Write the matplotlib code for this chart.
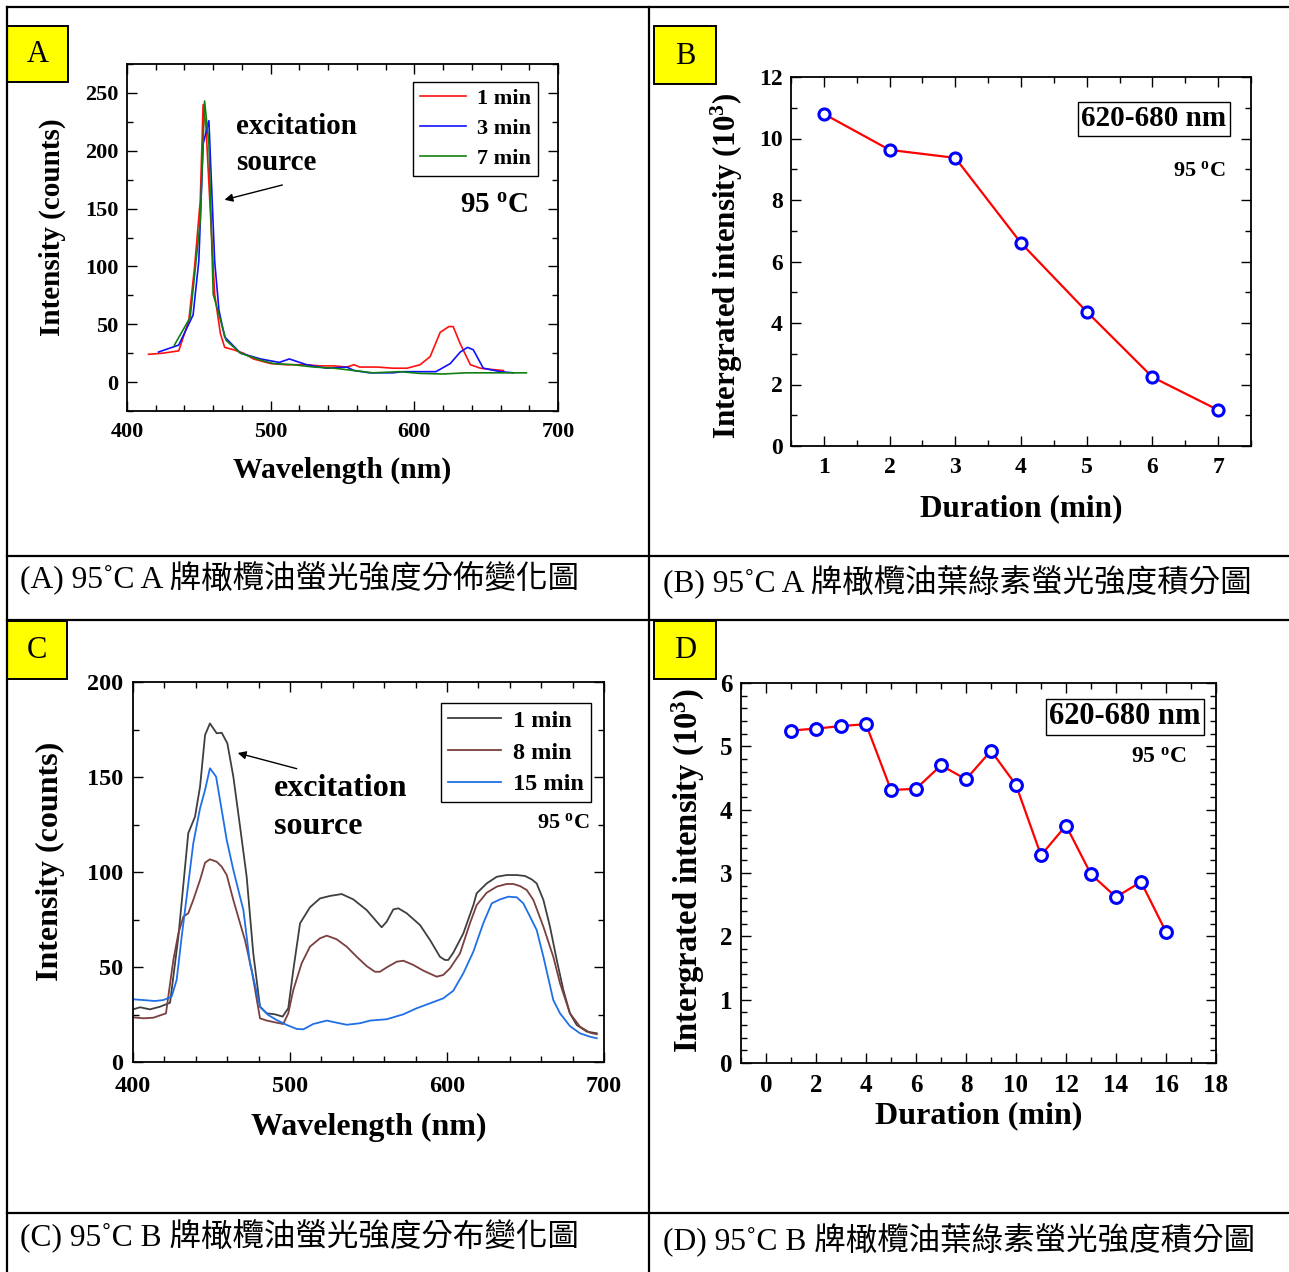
import matplotlib
matplotlib.use("Agg")
import matplotlib.pyplot as plt
from matplotlib.lines import Line2D
from matplotlib.patches import Rectangle
from matplotlib.ticker import MultipleLocator

W, H = 1289, 1272

# ---------------- data ----------------
# Panel A : 95 C, brand A spectra
a_red_wl = [415, 425, 436, 443, 447, 451, 453, 455, 458, 461, 465, 468, 474, 481, 488, 500, 511, 525, 534,
            544, 553, 558, 562, 574, 585, 595, 604, 611, 618, 624, 627, 632, 639, 646, 653, 662]
a_red_v = [24, 25, 27, 53, 99, 157, 240, 220, 148, 76, 42, 30, 28, 25, 20, 16, 15, 15, 14,
           14, 13, 15, 13, 13, 12, 12, 15, 22, 43, 48, 48, 33, 15, 12, 11, 10]
a_blue_wl = [422, 436, 446, 450, 453, 457, 461, 464, 468, 479, 493, 506, 513, 525, 539, 553, 558, 569,
             585, 592, 615, 625, 632, 637, 641, 648, 660, 669]
a_blue_v = [26, 32, 58, 105, 206, 226, 105, 62, 39, 25, 20, 17, 20, 15, 12, 13, 10, 8,
            8, 9, 9, 16, 26, 30, 28, 12, 9, 8]
a_green_wl = [433, 444, 451, 454, 457, 460, 469, 479, 493, 502, 516, 530, 544, 558, 571, 590, 604, 620,
              636, 650, 678]
a_green_v = [32, 56, 140, 243, 206, 76, 36, 25, 19, 16, 15, 13, 12, 10, 8, 9, 7.5, 7,
             8, 8, 8]

# Panel B : integrated intensity, brand A
b_time = [1, 2, 3, 4, 5, 6, 7]
b_int = [10.8, 9.63, 9.37, 6.6, 4.37, 2.24, 1.17]

# Panel C : 95 C, brand B spectra
c_k_wl = [400, 404.5, 410.8, 417.2, 423.6, 428.9, 435.2, 439.5, 442.7, 445.9, 449, 453.3, 456.5, 460.1,
          463.9, 468.2, 472.4, 476.6, 480.9, 485.2, 490.4, 495.3, 498.9, 502.1, 506.4, 512.7, 519.1,
          525.5, 532.9, 540.3, 548.8, 555.2, 558.4, 561.6, 565.8, 569, 574.3, 582.8, 589.2, 595.5,
          598.7, 600.8, 604, 610.4, 616.8, 618.9, 625.3, 631.7, 638, 644.4, 649.7, 654, 657.1, 661.4,
          665.6, 669.9, 674.1, 678.3, 682.6, 689, 695.4]
c_k_v = [27.7, 28.8, 27.7, 29.1, 31.2, 65.9, 120.4, 129.1, 144.9, 172.1, 178.2, 173, 173.3, 167.7,
         150.2, 123.8, 97.5, 57.2, 29.1, 25.6, 25.1, 23.9, 28.3, 48.4, 73, 81.4, 86.1,
         87.4, 88.4, 85.6, 80, 73.9, 70.9, 73.9, 80.3, 80.9, 78.3, 72.1, 64.2, 55.4,
         53.7, 53.7, 57.5, 67.7, 82.6, 88.8, 94, 97.5, 98.4, 98.4, 97.9, 96.1, 94, 85.3,
         71.2, 53.7, 37.9, 25.6, 19.5, 16, 15.1]
c_r_wl = [400, 406.6, 412.9, 421, 425.7, 428.9, 432.1, 435.2, 438.4, 442.7, 445.9, 449, 453.3, 456.5,
          459.7, 463.9, 468.2, 471.3, 475.6, 480.9, 485.2, 491.5, 495.7, 498.9, 502.1, 507.4, 512.7,
          519.1, 523.4, 529.7, 536.1, 542.5, 548.8, 554.1, 557.3, 561.6, 568, 572.2, 578.5, 584.9,
          593.4, 597.6, 601.9, 608.3, 614.6, 618.9, 625.3, 631.7, 638, 642.2, 646.5, 650.8, 655,
          661.4, 667.7, 672, 678.3, 684.7, 691.1, 695.4]
c_r_v = [23.5, 23, 23.3, 25.6, 53.7, 67.7, 76.5, 78.3, 85.3, 95.8, 104.9, 106.7, 105.4, 102.8,
         98.4, 85.3, 73, 64.2, 48.4, 23, 21.8, 20.7, 20, 25.6, 37.9, 51.9, 60.7,
         65.1, 66.5, 64.6, 60.7, 55.4, 50.5, 47.5, 47.5, 49.8, 52.8, 53.3, 51.1, 48.1,
         44.9, 45.8, 49.3, 57.2, 73, 82.6, 89.1, 92.3, 93.7, 93.7, 92.6, 90.5, 85.3,
         71.2, 55.4, 41.4, 25.6, 18.6, 15.4, 14.6]
c_b_wl = [400, 406.6, 414, 419.3, 424.6, 427.8, 431, 434.2, 438.4, 442.7, 445.9, 449, 452.9, 456.5,
          459.7, 463.9, 467.1, 470.3, 474.5, 480.9, 486.2, 491.5, 497.9, 504.3, 508.5, 514.8, 523.4,
          529.7, 536.1, 544.6, 551, 561.6, 572.2, 580.7, 589.2, 597.6, 604, 610.4, 616.8, 623.1,
          628.5, 633.8, 639.1, 644.4, 648.6, 652.9, 657.1, 661.4, 667.7, 672, 678.3, 684.7, 691.1,
          695.4]
c_b_v = [33, 32.6, 32.1, 32.6, 34.4, 43.2, 65.9, 87, 115.1, 133.5, 143.2, 154.6, 150.2, 132.6,
         116.8, 101.1, 90.5, 80, 51.9, 29.1, 24.7, 22.1, 19.5, 17.4, 17.2, 20, 21.8,
         20.7, 19.6, 20.4, 21.8, 22.5, 25.1, 28.3, 30.9, 33.5, 37.5, 46.7, 58.1, 73,
         83.5, 85.6, 87, 86.7, 83.5, 76.5, 69.5, 55.4, 32.6, 25.6, 18.9, 15.1, 13.3,
         12.5]

# Panel D : integrated intensity, brand B
d_time = list(range(1, 17))
d_int = [5.25, 5.28, 5.32, 5.35, 4.31, 4.33, 4.70, 4.48, 4.93, 4.39, 3.28, 3.75, 2.98, 2.62, 2.86, 2.07]

captions = ["(A) 95˚C A 牌橄欖油螢光強度分佈變化圖",
            "(B) 95˚C A 牌橄欖油葉綠素螢光強度積分圖",
            "(C) 95˚C B 牌橄欖油螢光強度分布變化圖",
            "(D) 95˚C B 牌橄欖油葉綠素螢光強度積分圖"]
panel_letters = ["A", "B", "C", "D"]

# ---------------- style ----------------
SERIF = "Liberation Serif"
plt.rcParams["font.family"] = [SERIF, "DejaVu Serif"]
plt.rcParams["font.weight"] = "bold"
plt.rcParams["mathtext.fontset"] = "custom"
plt.rcParams["mathtext.rm"] = SERIF + ":bold"
plt.rcParams["mathtext.it"] = SERIF + ":bold"
plt.rcParams["mathtext.bf"] = SERIF + ":bold"

fig = plt.figure(figsize=(W / 100, H / 100), dpi=100)


def fx(x):
    return x / W


def fy(y):
    return 1 - y / H


def add_axes(l, r, t, b):
    return fig.add_axes([fx(l), fy(b), (r - l) / W, (b - t) / H])


def style_axes(ax, tick_fs, xmaj, xmin, ymaj, ymin, xpad=8, ypad=6):
    for s in ax.spines.values():
        s.set_linewidth(1.3)
    ax.xaxis.set_major_locator(MultipleLocator(xmaj))
    ax.xaxis.set_minor_locator(MultipleLocator(xmin))
    ax.yaxis.set_major_locator(MultipleLocator(ymaj))
    ax.yaxis.set_minor_locator(MultipleLocator(ymin))
    ax.tick_params(which="both", direction="in", top=True, right=True, width=1.0)
    ax.tick_params(which="major", length=7, labelsize=tick_fs)
    ax.tick_params(which="minor", length=4)
    ax.tick_params(axis="x", which="major", pad=xpad)
    ax.tick_params(axis="y", which="major", pad=ypad)
    for lab in ax.get_xticklabels() + ax.get_yticklabels():
        lab.set_fontweight("bold")


def place_labels(ax, l, r, t, b, xl_y, yl_x, yl_y, xlabel, ylabel, xfs, yfs):
    ax.set_xlabel(xlabel, fontsize=xfs, fontweight="bold")
    ax.set_ylabel(ylabel, fontsize=yfs, fontweight="bold")
    ax.xaxis.label.set_va("center")
    ax.yaxis.label.set_va("center")
    ax.xaxis.set_label_coords(0.5, (b - xl_y) / (b - t))
    ax.yaxis.set_label_coords((yl_x - l) / (r - l), (b - yl_y) / (b - t))


# ---------------- table frame ----------------
lw_frame = 1.6
for x in (7, 649):
    fig.add_artist(Line2D([fx(x), fx(x)], [fy(7), fy(H)], color="black", lw=lw_frame))
for y in (7, 556, 620, 1213):
    fig.add_artist(Line2D([fx(7), fx(W)], [fy(y), fy(y)], color="black", lw=lw_frame))

# yellow letter boxes
boxes = [(7, 26, 68, 82), (654, 26, 716, 84), (7, 621, 67, 679), (654, 621, 716, 679)]
for (l, t, r, b), letter in zip(boxes, panel_letters):
    fig.add_artist(Rectangle((fx(l), fy(b)), (r - l) / W, (b - t) / H, transform=fig.transFigure,
                             facecolor="#ffff00", edgecolor="black", lw=1.4))
    fig.text(fx((l + r) / 2), fy((t + b) / 2 + 1), letter, ha="center", va="center",
             fontsize=22, fontweight="normal", family=SERIF)

# captions
cap_pos = [(20, 578), (663, 582), (20, 1236), (663, 1240)]
for (x, y), cap in zip(cap_pos, captions):
    fig.text(fx(x), fy(y), cap, ha="left", va="center", fontsize=22.7, fontweight="normal",
             family=[SERIF, "Noto Sans CJK TC"])

# ---------------- Panel A ----------------
l, r, t, b = 127, 558, 64, 411
axA = add_axes(l, r, t, b)
lA1, = axA.plot(a_red_wl, a_red_v, color="#ff1010", lw=1.2, label="1 min")
lA2, = axA.plot(a_blue_wl, a_blue_v, color="#1010ff", lw=1.2, label="3 min")
lA3, = axA.plot(a_green_wl, a_green_v, color="#108010", lw=1.2, label="7 min")
axA.set_xlim(400, 700)
axA.set_ylim(-25, 275)
style_axes(axA, 16, 100, 20, 50, 25)
place_labels(axA, l, r, t, b, 470, 52, 227, "Wavelength (nm)", "Intensity (counts)", 21.3, 21)
legA = axA.legend(handles=[lA1, lA2, lA3], loc="upper right",
                  bbox_to_anchor=(fx(538), fy(82)), bbox_transform=fig.transFigure,
                  prop={"family": SERIF, "weight": "bold", "size": 16},
                  frameon=True, fancybox=False, edgecolor="black", framealpha=1,
                  borderaxespad=0, borderpad=0.3, handlelength=2.1, handletextpad=0.5,
                  labelspacing=0.42)
legA.get_frame().set_linewidth(1.0)
axA.text(476, 221, "excitation", fontsize=21, fontweight="bold", va="center", ha="left")
axA.text(476, 190, "source", fontsize=21, fontweight="bold", va="center", ha="left")
axA.annotate("", xy=(466, 157), xytext=(510, 171),
             arrowprops=dict(arrowstyle="-|>", color="black", lw=1.0, mutation_scale=12))
axA.text(0.93, 0.594, "95 $^{\\rm o}$C", transform=axA.transAxes, fontsize=21,
         fontweight="bold", ha="right", va="center")

# ---------------- Panel B ----------------
l, r, t, b = 791, 1251, 77, 446
axB = add_axes(l, r, t, b)
axB.plot(b_time, b_int, color="red", lw=1.6, marker="o", markersize=8,
         markerfacecolor="white", markeredgecolor="blue", markeredgewidth=2.2)
axB.set_xlim(0.5, 7.5)
axB.set_ylim(0, 12)
style_axes(axB, 17, 1, 0.5, 2, 1)
place_labels(axB, l, r, t, b, 509, 727, 266, "Duration (min)", "Intergrated intensity (10$^{3}$)", 22.5, 22.3)
axB.text(fx(1154), fy(119), "620-680 nm", transform=fig.transFigure, fontsize=21,
         fontweight="bold", ha="center", va="center",
         bbox=dict(boxstyle="square,pad=0.12", facecolor="white", edgecolor="black", lw=1.0))
axB.text(fx(1226), fy(171), "95 $^{\\rm o}$C", transform=fig.transFigure, fontsize=16,
         fontweight="bold", ha="right", va="center")

# ---------------- Panel C ----------------
l, r, t, b = 133, 604, 682, 1062
axC = add_axes(l, r, t, b)
lC1, = axC.plot(c_k_wl, c_k_v, color="#3f3f3f", lw=1.3, label="1 min")
lC2, = axC.plot(c_r_wl, c_r_v, color="#7b3f3f", lw=1.3, label="8 min")
lC3, = axC.plot(c_b_wl, c_b_v, color="#1f6fe8", lw=1.3, label="15 min")
axC.set_xlim(400, 700)
axC.set_ylim(0, 200)
style_axes(axC, 17.5, 100, 20, 50, 25, xpad=10, ypad=7)
place_labels(axC, l, r, t, b, 1127, 50, 861, "Wavelength (nm)", "Intensity (counts)", 23, 23)
legC = axC.legend(handles=[lC1, lC2, lC3], loc="upper right",
                  bbox_to_anchor=(fx(591), fy(703)), bbox_transform=fig.transFigure,
                  prop={"family": SERIF, "weight": "bold", "size": 17.5},
                  frameon=True, fancybox=False, edgecolor="black", framealpha=1,
                  borderaxespad=0, borderpad=0.28, handlelength=2.2, handletextpad=0.5,
                  labelspacing=0.4)
legC.get_frame().set_linewidth(1.0)
axC.text(fx(274), fy(788), "excitation", transform=fig.transFigure, fontsize=23,
         fontweight="bold", va="center", ha="left")
axC.text(fx(274), fy(827), "source", transform=fig.transFigure, fontsize=23,
         fontweight="bold", va="center", ha="left")
axC.annotate("", xy=(465, 163), xytext=(506, 154),
             arrowprops=dict(arrowstyle="-|>", color="black", lw=1.0, mutation_scale=12))
axC.text(fx(590), fy(823), "95 $^{\\rm o}$C", transform=fig.transFigure, fontsize=16,
         fontweight="bold", ha="right", va="center")

# ---------------- Panel D ----------------
l, r, t, b = 741, 1216, 683, 1063
axD = add_axes(l, r, t, b)
axD.plot(d_time, d_int, color="red", lw=1.6, marker="o", markersize=8.5,
         markerfacecolor="white", markeredgecolor="blue", markeredgewidth=2.2)
axD.set_xlim(-1, 18)
axD.set_ylim(0, 6)
style_axes(axD, 18, 2, 1, 1, 0.2)
place_labels(axD, l, r, t, b, 1116, 688, 871, "Duration (min)", "Intergrated intensity (10$^{3}$)", 23, 23.5)
axD.text(fx(1125), fy(717), "620-680 nm", transform=fig.transFigure, fontsize=22,
         fontweight="bold", ha="center", va="center",
         bbox=dict(boxstyle="square,pad=0.12", facecolor="white", edgecolor="black", lw=1.0))
axD.text(fx(1187), fy(757), "95 $^{\\rm o}$C", transform=fig.transFigure, fontsize=17,
         fontweight="bold", ha="right", va="center")

fig.savefig("out.png", dpi=100)
